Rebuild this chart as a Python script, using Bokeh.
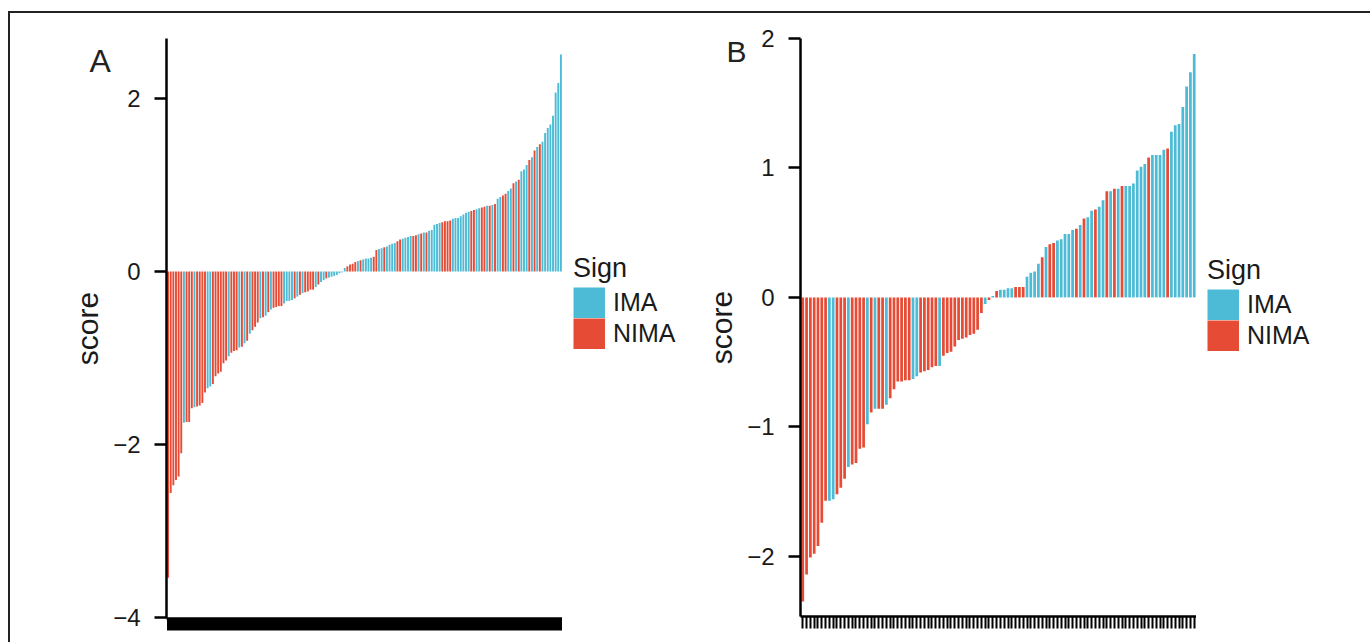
from bokeh.plotting import figure
from bokeh.models import (ColumnDataSource, Range1d, FixedTicker, Legend, LegendItem,
                          Label, Spacer, CustomJSTickFormatter)
from bokeh.layouts import row, column
from bokeh.embed import file_html
from bokeh.resources import INLINE

# ---------------- data ----------------
RED = "#E64B35"   # NIMA
BLUE = "#4DBBD5"  # IMA

# Panel A: sorted risk scores (150 samples)
a_scores = [
    -3.54, -2.56, -2.47, -2.41, -2.37, -2.10, -1.75, -1.74, -1.74, -1.58,
    -1.57, -1.56, -1.55, -1.52, -1.40, -1.35, -1.33, -1.30, -1.21, -1.18,
    -1.16, -1.06, -1.03, -0.98, -0.94, -0.92, -0.91, -0.88, -0.87, -0.83,
    -0.80, -0.72, -0.68, -0.64, -0.59, -0.54, -0.53, -0.51, -0.47, -0.44,
    -0.42, -0.41, -0.40, -0.40, -0.37, -0.34, -0.34, -0.33, -0.31, -0.29,
    -0.27, -0.25, -0.24, -0.23, -0.21, -0.21, -0.18, -0.15, -0.12, -0.10,
    -0.08, -0.07, -0.06, -0.05, -0.04, -0.02, -0.01,
    0.04, 0.06, 0.08, 0.09, 0.11, 0.12, 0.13, 0.14, 0.15, 0.15,
    0.16, 0.17, 0.25, 0.26, 0.27, 0.28, 0.29, 0.31, 0.32, 0.33,
    0.35, 0.37, 0.38, 0.39, 0.40, 0.41, 0.41, 0.42, 0.43, 0.44,
    0.45, 0.45, 0.47, 0.48, 0.54, 0.55, 0.56, 0.57, 0.58, 0.58,
    0.59, 0.61, 0.62, 0.62, 0.64, 0.66, 0.68, 0.69, 0.70, 0.71,
    0.72, 0.73, 0.74, 0.75, 0.76, 0.76, 0.77, 0.78, 0.84, 0.86,
    0.88, 0.90, 0.93, 0.96, 1.02, 1.04, 1.06, 1.16, 1.18, 1.23,
    1.29, 1.32, 1.40, 1.44, 1.47, 1.50, 1.60, 1.66, 1.70, 1.80,
    2.07, 2.18, 2.51,
]
# I = IMA, N = NIMA
a_sign_codes = (
    "NNNNNN" "I" "NNN" "I" "NNNN" "II" "NN" "NNNN" "I" "NNN" "I" "N" "I" "N" "I"
    "NNN" "I" "N" "I" "N" "I" "NNNN" "IIII" "N" "I" "N" "I" "NNNN" "I" "N" "II"
    "N" "IIIIII"
    "I" "NNNN" "I" "N" "IIII" "NN" "II" "N" "IIII" "NN" "IIII" "NN" "I" "N" "I"
    "N" "IIIII" "NNNN" "IIIIIII" "NN" "II" "NN" "I" "N" "I" "N" "II" "NN" "II"
    "N" "I" "N" "III" "N" "I" "N" "I" "N" "IIIIIIII"
)

# Panel B: sorted risk scores (104 samples)
b_scores = [
    -2.35, -2.14, -2.01, -1.98, -1.92, -1.74, -1.57, -1.57, -1.56, -1.52,
    -1.47, -1.40, -1.31, -1.29, -1.28, -1.17, -1.16, -0.98, -0.89, -0.86,
    -0.86, -0.86, -0.83, -0.78, -0.71,
    -0.65, -0.65, -0.64, -0.64, -0.63, -0.61, -0.58, -0.57, -0.56, -0.54,
    -0.53, -0.53, -0.45, -0.43, -0.42, -0.38, -0.33, -0.32, -0.31, -0.29,
    -0.28, -0.25, -0.12, -0.05, -0.02, 0.01,
    0.05, 0.06, 0.06, 0.07, 0.07, 0.08, 0.08, 0.08,
    0.16, 0.19, 0.20, 0.26, 0.31, 0.39, 0.41, 0.42, 0.44, 0.45,
    0.49, 0.49, 0.52, 0.53, 0.56, 0.61, 0.62, 0.67, 0.68, 0.70,
    0.75, 0.82, 0.82, 0.84, 0.84, 0.86, 0.86, 0.86, 0.88, 0.98,
    1.01, 1.03, 1.08, 1.10, 1.10, 1.10, 1.14, 1.15, 1.28, 1.33,
    1.34, 1.47, 1.63, 1.74, 1.88,
]
b_sign_codes = (
    "NNNNNN" "N" "II" "NNN" "I" "NNNN" "I" "N" "I" "NN" "I" "NN"
    "NNNN" "II" "NNNNN" "I" "NNNNNNNNNNN" "I" "N" "I"
    "NIIIINNN"
    "IIII" "N" "I" "NN" "IIIII" "N" "I" "N" "II" "N" "II" "N" "I" "N" "I" "N"
    "IIIIII" "N" "IIII" "N" "IIIIIII"
)

a_ticks = [-4, -2, 0, 2]
b_ticks = [-2, -1, 0, 1, 2]
sign_names = {"I": "IMA", "N": "NIMA"}
sign_colors = {"IMA": BLUE, "NIMA": RED}
legend_title = "Sign"

FONT = "Liberation Sans"
TXT = "#1a1a1a"
PAD = 0.6
NAN = float("nan")
H = 629


def make_panel(scores, codes, yr, ticks, frame_h, top, bottom,
               letter, letter_size, letter_xy, tick_w):
    n = len(scores)
    pos = list(range(1, n + 1))
    signs = [sign_names[c] for c in codes]
    p = figure(
        x_range=Range1d(1 - PAD, n + PAD),
        y_range=Range1d(*yr),
        width=None, height=None,
        frame_width=396, frame_height=frame_h,
        min_border_left=0, min_border_right=0,
        min_border_top=top, min_border_bottom=bottom,
        output_backend="svg", toolbar_location=None,
    )
    for s in ["IMA", "NIMA"]:
        sub = [(i, v) for i, v, g in zip(pos, scores, signs) if g == s]
        src = ColumnDataSource(dict(x=[t[0] for t in sub], score=[t[1] for t in sub]))
        p.vbar(x="x", top="score", bottom=0, width=0.72, source=src,
               fill_color=sign_colors[s], line_color=None)

    p.grid.visible = False
    p.outline_line_color = None
    p.background_fill_color = "white"
    p.border_fill_color = "white"

    xa = p.xaxis[0]
    xa.ticker = FixedTicker(ticks=pos)
    xa.formatter = CustomJSTickFormatter(code="return ''")
    xa.minor_tick_line_color = None
    xa.major_tick_out = 12
    xa.major_tick_in = 0
    xa.major_tick_line_width = tick_w
    xa.major_tick_line_color = "black"
    xa.axis_line_width = 2.5
    xa.axis_line_color = "black"
    xa.major_label_standoff = 0

    ya = p.yaxis[0]
    ya.ticker = FixedTicker(ticks=ticks)
    ya.minor_tick_line_color = None
    ya.major_tick_out = 12
    ya.major_tick_in = 0
    ya.major_tick_line_width = 2.5
    ya.axis_line_width = 2.5
    ya.axis_line_color = "black"
    ya.major_tick_line_color = "black"
    ya.major_label_text_font = FONT
    ya.major_label_text_font_size = "24px"
    ya.major_label_text_color = TXT
    ya.major_label_standoff = 14
    ya.axis_label = "score"
    ya.axis_label_text_font = FONT
    ya.axis_label_text_font_size = "30px"
    ya.axis_label_text_font_style = "normal"
    ya.axis_label_text_color = TXT
    ya.axis_label_standoff = 6

    p.add_layout(Label(x=letter_xy[0], y=letter_xy[1], x_units="screen", y_units="screen",
                       text=letter, text_font=FONT, text_font_size=letter_size,
                       text_color="#222", text_baseline="alphabetic"), "left")
    return p


def make_legend(width, loc):
    # a plain, axis-less canvas holding the "Sign" legend beside a panel
    q = figure(width=width, height=H, x_range=Range1d(0, 1), y_range=Range1d(0, 1),
               x_axis_location=None, y_axis_location=None,
               min_border_left=0, min_border_right=0, min_border_top=0,
               min_border_bottom=0, output_backend="svg", toolbar_location=None)
    q.grid.visible = False
    q.outline_line_color = None
    q.background_fill_color = "white"
    q.border_fill_color = "white"
    items = []
    for s in ["IMA", "NIMA"]:
        r = q.line(x=[NAN], y=[NAN], line_color=sign_colors[s], line_width=31,
                   line_cap="butt")
        items.append(LegendItem(label=s, renderers=[r]))
    q.add_layout(Legend(
        items=items, title=legend_title, location=loc,
        title_text_font=FONT, title_text_font_size="27px",
        title_text_font_style="normal", title_text_color=TXT, title_standoff=3,
        label_text_font=FONT, label_text_font_size="25px", label_text_color=TXT,
        glyph_width=32, glyph_height=31, label_standoff=8, label_height=31,
        spacing=0, padding=0, margin=0,
        border_line_alpha=0, background_fill_alpha=0,
    ))
    return q


LA, LB = 119, 119          # measured left-border widths of the two panels
a_start = 166 - LA
b_start = 801 - LB

pa = make_panel(a_scores, a_sign_codes, (-4.012, 2.694), a_ticks, 580, 25, H - 25 - 580,
                "A", "32px", (42, 558), 3)
pb = make_panel(b_scores, b_sign_codes, (-2.465, 2.0), b_ticks, 578, 25, H - 25 - 578,
                "B", "30px", (44, 565), 2)
la = make_legend(b_start - 562, (11, 267))
lb = make_legend(1362 - 1197, (11, 265))

top_line = Spacer(width=1362, height=2, styles={"background-color": "#222"})
left_line = Spacer(width=2, height=H, styles={"background-color": "#222"})
layout = column(
    Spacer(width=10, height=11),
    row(Spacer(width=8, height=2), top_line),
    row(Spacer(width=8, height=H), left_line, Spacer(width=a_start - 10, height=H),
        pa, la, pb, lb),
)

open("out.html", "w").write(file_html(layout, INLINE))
